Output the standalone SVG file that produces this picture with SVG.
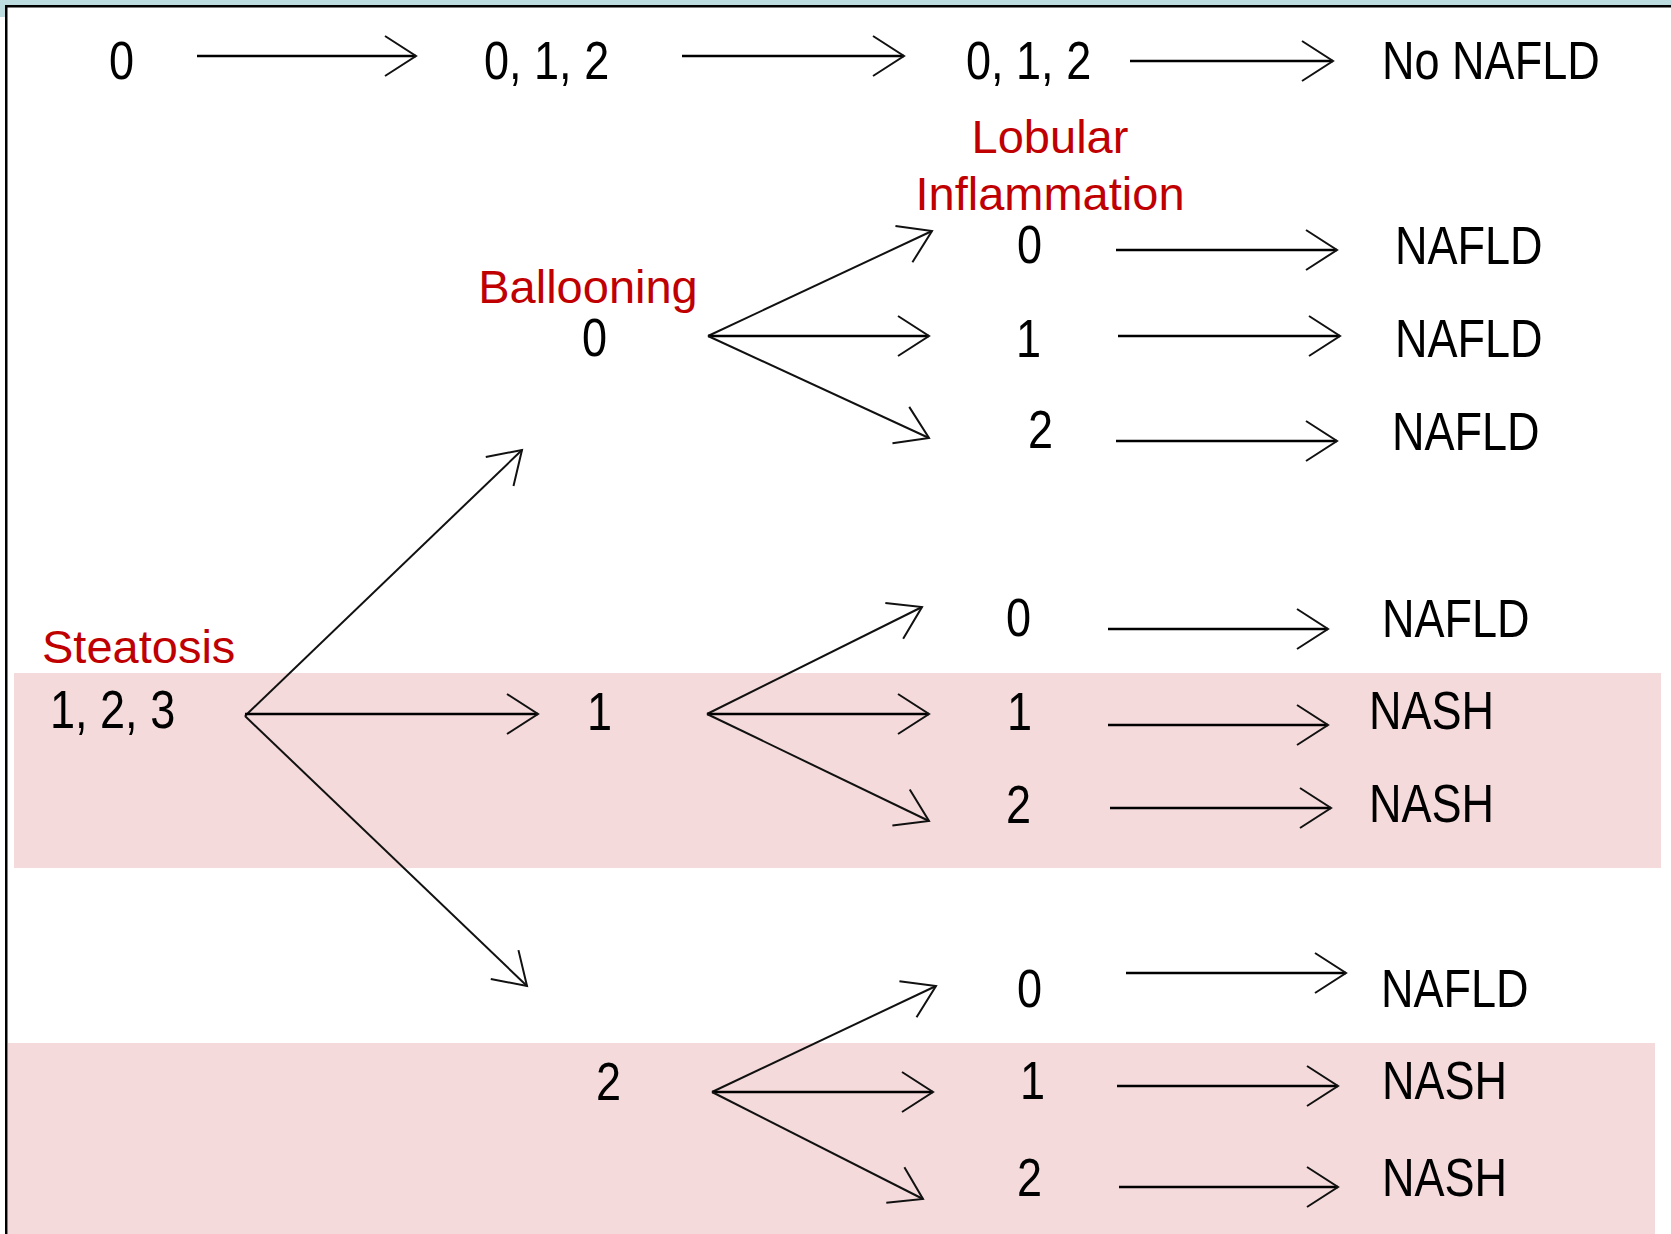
<svg xmlns="http://www.w3.org/2000/svg" width="1671" height="1234" viewBox="0 0 1671 1234">
  <defs>
    <style>
      .num { font-family: "Liberation Sans", Arial, sans-serif; font-size: 53px; fill: #000; }
      .lbl { font-family: "Liberation Sans", Arial, sans-serif; font-size: 47px; fill: #C00000; }
      .arr { stroke: #000; stroke-width: 2.5; fill: none; marker-end: url(#ah); }
      .diag { stroke: #111; stroke-width: 2; fill: none; marker-end: url(#ah); }
      .band { fill: #F4DADA; }
    </style>
    <marker id="ah" markerUnits="userSpaceOnUse" viewBox="-34 -24 38 48" markerWidth="38" markerHeight="48" refX="0" refY="0" orient="auto">
      <path d="M-31,-20 L0,0 L-31,20" fill="none" stroke="#111" stroke-width="2"/>
    </marker>
  </defs>

  <!-- page background and frame -->
  <rect x="0" y="0" width="1671" height="1234" fill="#fff"/>
  <rect x="0" y="0" width="1671" height="6" fill="#BCDCE0"/>
  <rect x="0" y="0" width="5" height="17" fill="#BCDCE0"/>

  <!-- highlighted NASH bands -->
  <rect class="band" x="14" y="673" width="1647" height="195"/>
  <rect class="band" x="8" y="1043" width="1647" height="191"/>

  <rect x="5" y="5" width="1666" height="2.5" fill="#000"/>
  <rect x="5" y="5" width="2.5" height="1229" fill="#000"/>

  <!-- connectors -->
  <g id="connectors">
    <!-- top row: no steatosis -->
    <line class="arr" x1="197" y1="56" x2="416" y2="56"/>
    <line class="arr" x1="682" y1="56" x2="904" y2="56"/>
    <line class="arr" x1="1130" y1="61" x2="1333" y2="61"/>

    <!-- steatosis fan -->
    <line class="diag" x1="245" y1="716" x2="522" y2="450"/>
    <line class="arr" x1="245" y1="714" x2="538" y2="714"/>
    <line class="diag" x1="245" y1="716" x2="527" y2="986"/>

    <!-- ballooning 0 fan -->
    <line class="diag" x1="708" y1="336" x2="932" y2="231"/>
    <line class="arr" x1="708" y1="336" x2="929" y2="336"/>
    <line class="diag" x1="708" y1="336" x2="929" y2="438"/>
    <line class="arr" x1="1116" y1="250" x2="1337" y2="250"/>
    <line class="arr" x1="1118" y1="336" x2="1340" y2="336"/>
    <line class="arr" x1="1116" y1="441" x2="1337" y2="441"/>

    <!-- ballooning 1 fan -->
    <line class="diag" x1="707" y1="714" x2="922" y2="607"/>
    <line class="arr" x1="707" y1="714" x2="929" y2="714"/>
    <line class="diag" x1="707" y1="714" x2="929" y2="821"/>
    <line class="arr" x1="1108" y1="629" x2="1328" y2="629"/>
    <line class="arr" x1="1108" y1="725" x2="1328" y2="725"/>
    <line class="arr" x1="1110" y1="808" x2="1331" y2="808"/>

    <!-- ballooning 2 fan -->
    <line class="diag" x1="712" y1="1092" x2="936" y2="986"/>
    <line class="arr" x1="712" y1="1092" x2="933" y2="1092"/>
    <line class="diag" x1="712" y1="1092" x2="923" y2="1199"/>
    <line class="arr" x1="1126" y1="973" x2="1346" y2="973"/>
    <line class="arr" x1="1117" y1="1086" x2="1338" y2="1086"/>
    <line class="arr" x1="1119" y1="1187" x2="1338" y2="1187"/>
  </g>

  <!-- column headings -->
  <g id="lbl-lobular">
    <text class="lbl" x="1050" y="153" text-anchor="middle">Lobular</text>
    <text class="lbl" x="1050" y="210" text-anchor="middle">Inflammation</text>
  </g>
  <g id="lbl-ballooning"><text class="lbl" x="588" y="303" text-anchor="middle">Ballooning</text></g>
  <g id="lbl-steatosis"><text class="lbl" x="42" y="663">Steatosis</text></g>

  <!-- top row nodes -->
  <g id="n-top-steatosis"><text class="num" transform="translate(109,79) scale(0.85,1)">0</text></g>
  <g id="n-top-ballooning"><text class="num" transform="translate(484,79) scale(0.85,1)">0, 1, 2</text></g>
  <g id="n-top-lobular"><text class="num" transform="translate(966,79) scale(0.85,1)">0, 1, 2</text></g>
  <g id="n-top-result"><text class="num" transform="translate(1382,79) scale(0.85,1)">No NAFLD</text></g>

  <!-- steatosis 1,2,3 -->
  <g id="n-steatosis"><text class="num" transform="translate(50,728) scale(0.85,1)">1, 2, 3</text></g>

  <!-- ballooning 0 branch -->
  <g id="n-b0"><text class="num" transform="translate(582,356) scale(0.85,1)">0</text></g>
  <g id="n-b0-l0"><text class="num" transform="translate(1017,263) scale(0.85,1)">0</text></g>
  <g id="n-b0-l1"><text class="num" transform="translate(1016,357) scale(0.85,1)">1</text></g>
  <g id="n-b0-l2"><text class="num" transform="translate(1028,448) scale(0.85,1)">2</text></g>
  <g id="n-b0-r0"><text class="num" transform="translate(1395,264) scale(0.85,1)">NAFLD</text></g>
  <g id="n-b0-r1"><text class="num" transform="translate(1395,357) scale(0.85,1)">NAFLD</text></g>
  <g id="n-b0-r2"><text class="num" transform="translate(1392,450) scale(0.85,1)">NAFLD</text></g>

  <!-- ballooning 1 branch -->
  <g id="n-b1"><text class="num" transform="translate(587,730) scale(0.85,1)">1</text></g>
  <g id="n-b1-l0"><text class="num" transform="translate(1006,636) scale(0.85,1)">0</text></g>
  <g id="n-b1-l1"><text class="num" transform="translate(1007,730) scale(0.85,1)">1</text></g>
  <g id="n-b1-l2"><text class="num" transform="translate(1006,823) scale(0.85,1)">2</text></g>
  <g id="n-b1-r0"><text class="num" transform="translate(1382,637) scale(0.85,1)">NAFLD</text></g>
  <g id="n-b1-r1"><text class="num" transform="translate(1369,729) scale(0.85,1)">NASH</text></g>
  <g id="n-b1-r2"><text class="num" transform="translate(1369,822) scale(0.85,1)">NASH</text></g>

  <!-- ballooning 2 branch -->
  <g id="n-b2"><text class="num" transform="translate(596,1100) scale(0.85,1)">2</text></g>
  <g id="n-b2-l0"><text class="num" transform="translate(1017,1007) scale(0.85,1)">0</text></g>
  <g id="n-b2-l1"><text class="num" transform="translate(1020,1099) scale(0.85,1)">1</text></g>
  <g id="n-b2-l2"><text class="num" transform="translate(1017,1196) scale(0.85,1)">2</text></g>
  <g id="n-b2-r0"><text class="num" transform="translate(1381,1007) scale(0.85,1)">NAFLD</text></g>
  <g id="n-b2-r1"><text class="num" transform="translate(1382,1099) scale(0.85,1)">NASH</text></g>
  <g id="n-b2-r2"><text class="num" transform="translate(1382,1196) scale(0.85,1)">NASH</text></g>
</svg>
